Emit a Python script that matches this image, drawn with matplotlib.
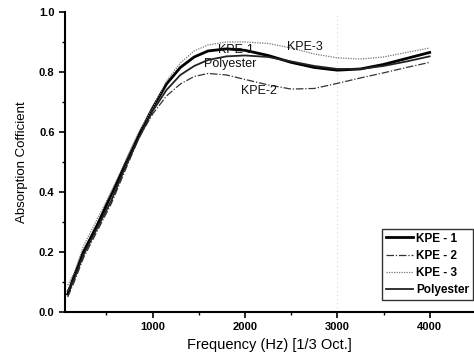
import matplotlib
matplotlib.use("Agg")
import matplotlib.pyplot as plt
from matplotlib.ticker import MultipleLocator

plt.rcParams['font.family'] = ['Liberation Sans', 'DejaVu Sans']

freq = [80, 150, 250, 400, 550, 700, 850, 1000, 1150, 1300, 1450, 1600, 1800,
        2000, 2250, 2500, 2750, 3000, 3250, 3500, 3750, 4000]
kpe1 = [0.06, 0.12, 0.20, 0.29, 0.39, 0.49, 0.59, 0.68, 0.76, 0.815, 0.85, 0.87, 0.877,
        0.872, 0.855, 0.832, 0.815, 0.806, 0.81, 0.825, 0.845, 0.865]
kpe2 = [0.05, 0.10, 0.18, 0.27, 0.36, 0.47, 0.58, 0.66, 0.72, 0.76, 0.785, 0.795, 0.79,
        0.775, 0.757, 0.743, 0.745, 0.762, 0.78, 0.797, 0.815, 0.832]
kpe3 = [0.09, 0.13, 0.22, 0.31, 0.40, 0.50, 0.60, 0.68, 0.77, 0.83, 0.87, 0.89, 0.90,
        0.90, 0.895, 0.88, 0.86, 0.847, 0.843, 0.85, 0.865, 0.88]
polyester = [0.07, 0.11, 0.19, 0.28, 0.37, 0.48, 0.58, 0.67, 0.74, 0.79, 0.82, 0.84, 0.852,
             0.855, 0.85, 0.835, 0.82, 0.81, 0.81, 0.82, 0.835, 0.852]

labels = ["KPE - 1", "KPE - 2", "KPE - 3", "Polyester"]
annotations = [("KPE-1", 1900, 0.872), ("KPE-3", 2650, 0.884),
               ("Polyester", 1845, 0.828), ("KPE-2", 2150, 0.737)]

fig = plt.figure(figsize=(4.74, 3.62), dpi=100)
ax = fig.add_axes([0.137, 0.138, 0.863, 0.829])

ax.plot(freq, kpe1, color='black', lw=2.0, ls='-', label=labels[0])
ax.plot(freq, kpe2, color='#333333', lw=0.9, ls=(0, (6, 1.5, 1, 1.5)), label=labels[1])
ax.plot(freq, kpe3, color='#777777', lw=0.9, ls=(0, (1, 1)), label=labels[2])
ax.plot(freq, polyester, color='#222222', lw=1.3, ls='-', label=labels[3])

ax.axvline(3000, color='#bbbbbb', lw=0.6, ls=(0, (1, 4)), zorder=0)

for txt, x, y in annotations:
    ax.text(x, y, txt, ha='center', va='center', fontsize=9, color='#111111')

ax.set_xlim(50, 4480)
ax.set_ylim(0, 1.0)
ax.set_xticks([1000, 2000, 3000, 4000])
ax.xaxis.set_minor_locator(MultipleLocator(500))
ax.yaxis.set_major_locator(MultipleLocator(0.2))
ax.yaxis.set_minor_locator(MultipleLocator(0.1))
ax.set_yticklabels([f"{v:.1f}" for v in ax.get_yticks()])

ax.spines['top'].set_visible(False)
ax.spines['right'].set_visible(False)
ax.spines['left'].set_linewidth(1.5)
ax.spines['bottom'].set_linewidth(1.5)
ax.tick_params(which='major', direction='out', length=4, width=1.2, labelsize=8)
ax.tick_params(which='minor', direction='out', length=2.5, width=1.0)
for lbl in ax.get_xticklabels() + ax.get_yticklabels():
    lbl.set_fontweight('bold')

ax.set_xlabel("Frequency (Hz) [1/3 Oct.]", fontsize=10.5, labelpad=4)
ax.set_ylabel("Absorption Cofficient", fontsize=9.5, labelpad=8)

leg = ax.legend(loc='lower right', fontsize=8.5, frameon=True, fancybox=False,
                edgecolor='black', handlelength=2.3, handletextpad=0.3,
                labelspacing=0.45, borderpad=0.3, borderaxespad=0,
                bbox_to_anchor=(0.997, 0.04))
leg.get_frame().set_linewidth(1.0)
for t in leg.get_texts():
    t.set_fontweight('bold')

fig.savefig("out.png", dpi=100)
